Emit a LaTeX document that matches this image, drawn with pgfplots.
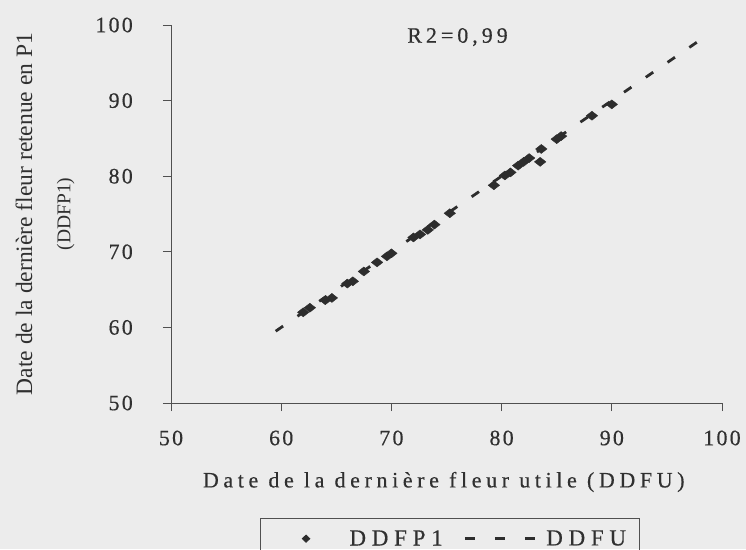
\documentclass[border=0pt]{standalone}
\usepackage{fontspec}
\setmainfont{Liberation Serif}
\newfontfamily\tickfont[LetterSpace=10, FakeBold=0.4]{Liberation Serif}
\newfontfamily\spaced[LetterSpace=18, FakeBold=0.4]{Liberation Serif}
\newfontfamily\xlabfont[LetterSpace=21, FakeBold=0.4]{Liberation Serif}
\newfontfamily\legspaced[LetterSpace=25, FakeBold=0.4]{Liberation Serif}
\usepackage{pgfplots}
\usepackage{pgfplotstable}
\pgfplotsset{compat=1.18}

\definecolor{bgcol}{RGB}{236,236,236}
\definecolor{ink}{RGB}{45,45,45}
\definecolor{txt}{RGB}{48,48,48}
\definecolor{axcol}{RGB}{80,80,80}

% DDFU (x) against DDFP1 (y)
\pgfplotstableread{
ddfu  ddfp1
62.0  62.0
62.6  62.6
64.0  63.6
64.6  63.9
66.0  65.8
66.5  66.1
67.5  67.4
68.7  68.6
69.6  69.4
70.0  69.8
72.0  71.9
72.6  72.3
73.3  72.9
73.9  73.6
75.3  75.1
79.3  78.8
80.3  80.1
80.8  80.5
81.5  81.4
82.0  81.9
82.5  82.4
83.5  81.9
83.6  83.6
85.0  84.9
85.4  85.3
88.2  88.0
90.0  89.5
}\ddfpdata

\begin{document}
\begin{tikzpicture}
\fill[bgcol] (0,0) rectangle (746pt,549pt);
\begin{axis}[
  at={(171pt,146pt)}, anchor=south west,
  scale only axis, width=551pt, height=378pt,
  xmin=50, xmax=100, ymin=50, ymax=100,
  axis x line*=bottom, axis y line*=left,
  axis line style={-, draw=axcol, line width=0.9pt},
  xtick={50,60,...,100}, ytick={50,60,...,100},
  tick align=outside, major tick length=8pt,
  tick style={axcol, line width=0.9pt},
  /pgf/number format/assume math mode=true,
  tick label style={font=\tickfont\fontsize{22}{26}\selectfont, text=txt},
  xticklabel style={anchor=center, yshift=-27pt},
  yticklabel style={anchor=east, inner sep=0pt, xshift=-30pt},
  xlabel={Date de la dernière fleur utile (DDFU)},
  xlabel style={at={(rel axis cs:0.495,-0.209)}, anchor=center,
    font=\xlabfont\fontsize{22}{26}\selectfont, text=txt},
  clip=false,
  legend columns=2,
  legend style={at={(rel axis cs:0.162,-0.304)}, anchor=north west,
    draw=axcol, line width=0.8pt, fill=none,
    inner xsep=0pt, inner ysep=12pt,
    font=\legspaced\fontsize{23}{27}\selectfont, text=txt,
    nodes={inner xsep=0pt, inner ysep=0pt, text width=93pt, align=left},
    /tikz/every even column/.style={column sep=0pt}},
  legend cell align=left,
]
\addplot[only marks, mark=diamond*, mark size=4.5pt,
  mark options={fill=ink, draw=ink, xscale=1.7},
  legend image code/.code={\path (-45pt,0pt) (43pt,0pt);
    \draw[only marks, mark=diamond*, mark size=3.6pt,
      mark options={fill=ink, draw=ink, xscale=1.4}] plot coordinates {(0pt,0pt)};}]
  table[x=ddfu, y=ddfp1] {\ddfpdata};
\addlegendentry{DDFP1}

\addplot[ink, line width=2.8pt, dash pattern=on 9pt off 17.4pt,
  legend image code/.code={\path (-21pt,0pt) (80pt,0pt);
    \draw[ink, line width=2.6pt, dash pattern=on 10pt off 20pt] (0pt,0pt) -- (70pt,0pt);}]
  coordinates {(59.5,59.5) (97.8,97.8)};
\addlegendentry{DDFU}

\node[font=\spaced\fontsize{22}{26}\selectfont, text=txt] at (axis cs:76,98.4) {R2=0,99};
\node[rotate=90, font=\fontsize{23.5}{28}\selectfont, text=txt]
  at (rel axis cs:-0.267,0.5) {Date de la dernière fleur retenue en P1};
\node[rotate=90, font=\fontsize{19.5}{23}\selectfont, text=txt]
  at (rel axis cs:-0.191,0.5) {(DDFP1)};
\end{axis}
\pgfresetboundingbox
\useasboundingbox (0,0) rectangle (746pt,549pt);
\end{tikzpicture}
\end{document}
